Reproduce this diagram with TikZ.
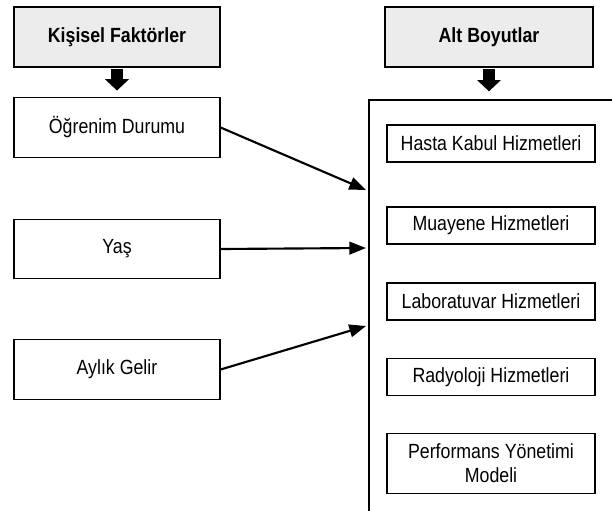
\documentclass[tikz,border=0pt]{standalone}
\usepackage{fontspec}
\setmainfont{Liberation Sans}[FakeStretch=0.865]
\usetikzlibrary{arrows.meta}

\tikzset{
  factor/.style={draw, line width=0.9pt, minimum width=154.5pt, minimum height=44.5pt, align=center, inner sep=0pt},
  header/.style={factor, fill=gray!15, font=\fontsize{15.4}{18}\selectfont\bfseries, minimum height=45pt},
  dimbox/.style={draw, line width=0.9pt, minimum width=156pt, minimum height=27.75pt, align=center, inner sep=0pt},
  blockarrow/.style={line width=8.5pt, -{Triangle[length=8.5pt,width=17.5pt]}},
  effect/.style={line width=1.6pt, -{Triangle[length=12.5pt,width=9.5pt]}}
}

\begin{document}
\begin{tikzpicture}[x=0.75pt,y=-0.75pt,font=\fontsize{15.4}{18}\selectfont]
\useasboundingbox (0,0) rectangle (612,511);
% left column
\node[header] (kf) at (117,37) {Kişisel Faktörler};
\node[factor] (od) at (117,127.5) {Öğrenim Durumu};
\node[factor] (yas) at (117,249) {Yaş};
\node[factor] (ag) at (117,369.5) {Aylık Gelir};
% right column
\node[header, minimum width=156pt] (ab) at (489,37) {Alt Boyutlar};
\coordinate (frame) at (369,100);
\draw[line width=0.9pt] (369,511) -- (frame) -- (612,100);
\node[dimbox] (hk) at (491,143.5) {Hasta Kabul Hizmetleri};
\node[dimbox] (mu) at (491,225.5) {Muayene Hizmetleri};
\node[dimbox] (lab) at (491,301.5) {Laboratuvar Hizmetleri};
\node[dimbox] (rad) at (491,377) {Radyoloji Hizmetleri};
\node[dimbox, minimum height=44.5pt] (pym) at (491,463.5) {Performans Yönetimi\\Modeli};
% block arrows
\draw[blockarrow] ([yshift=-1pt]kf.south) -- ([yshift=5pt]od.north);
\draw[blockarrow] ([yshift=-1pt]ab.south) -- ([yshift=6.5pt]ab.south |- frame);
% effects
\coordinate (t1) at (366,190);
\coordinate (t2) at (366,248);
\coordinate (t3) at (366,326);
\draw[effect] (od.east) -- (t1);
\draw[effect] (yas.east) -- (t2);
\draw[effect] (ag.east) -- (t3);
\end{tikzpicture}
\end{document}
